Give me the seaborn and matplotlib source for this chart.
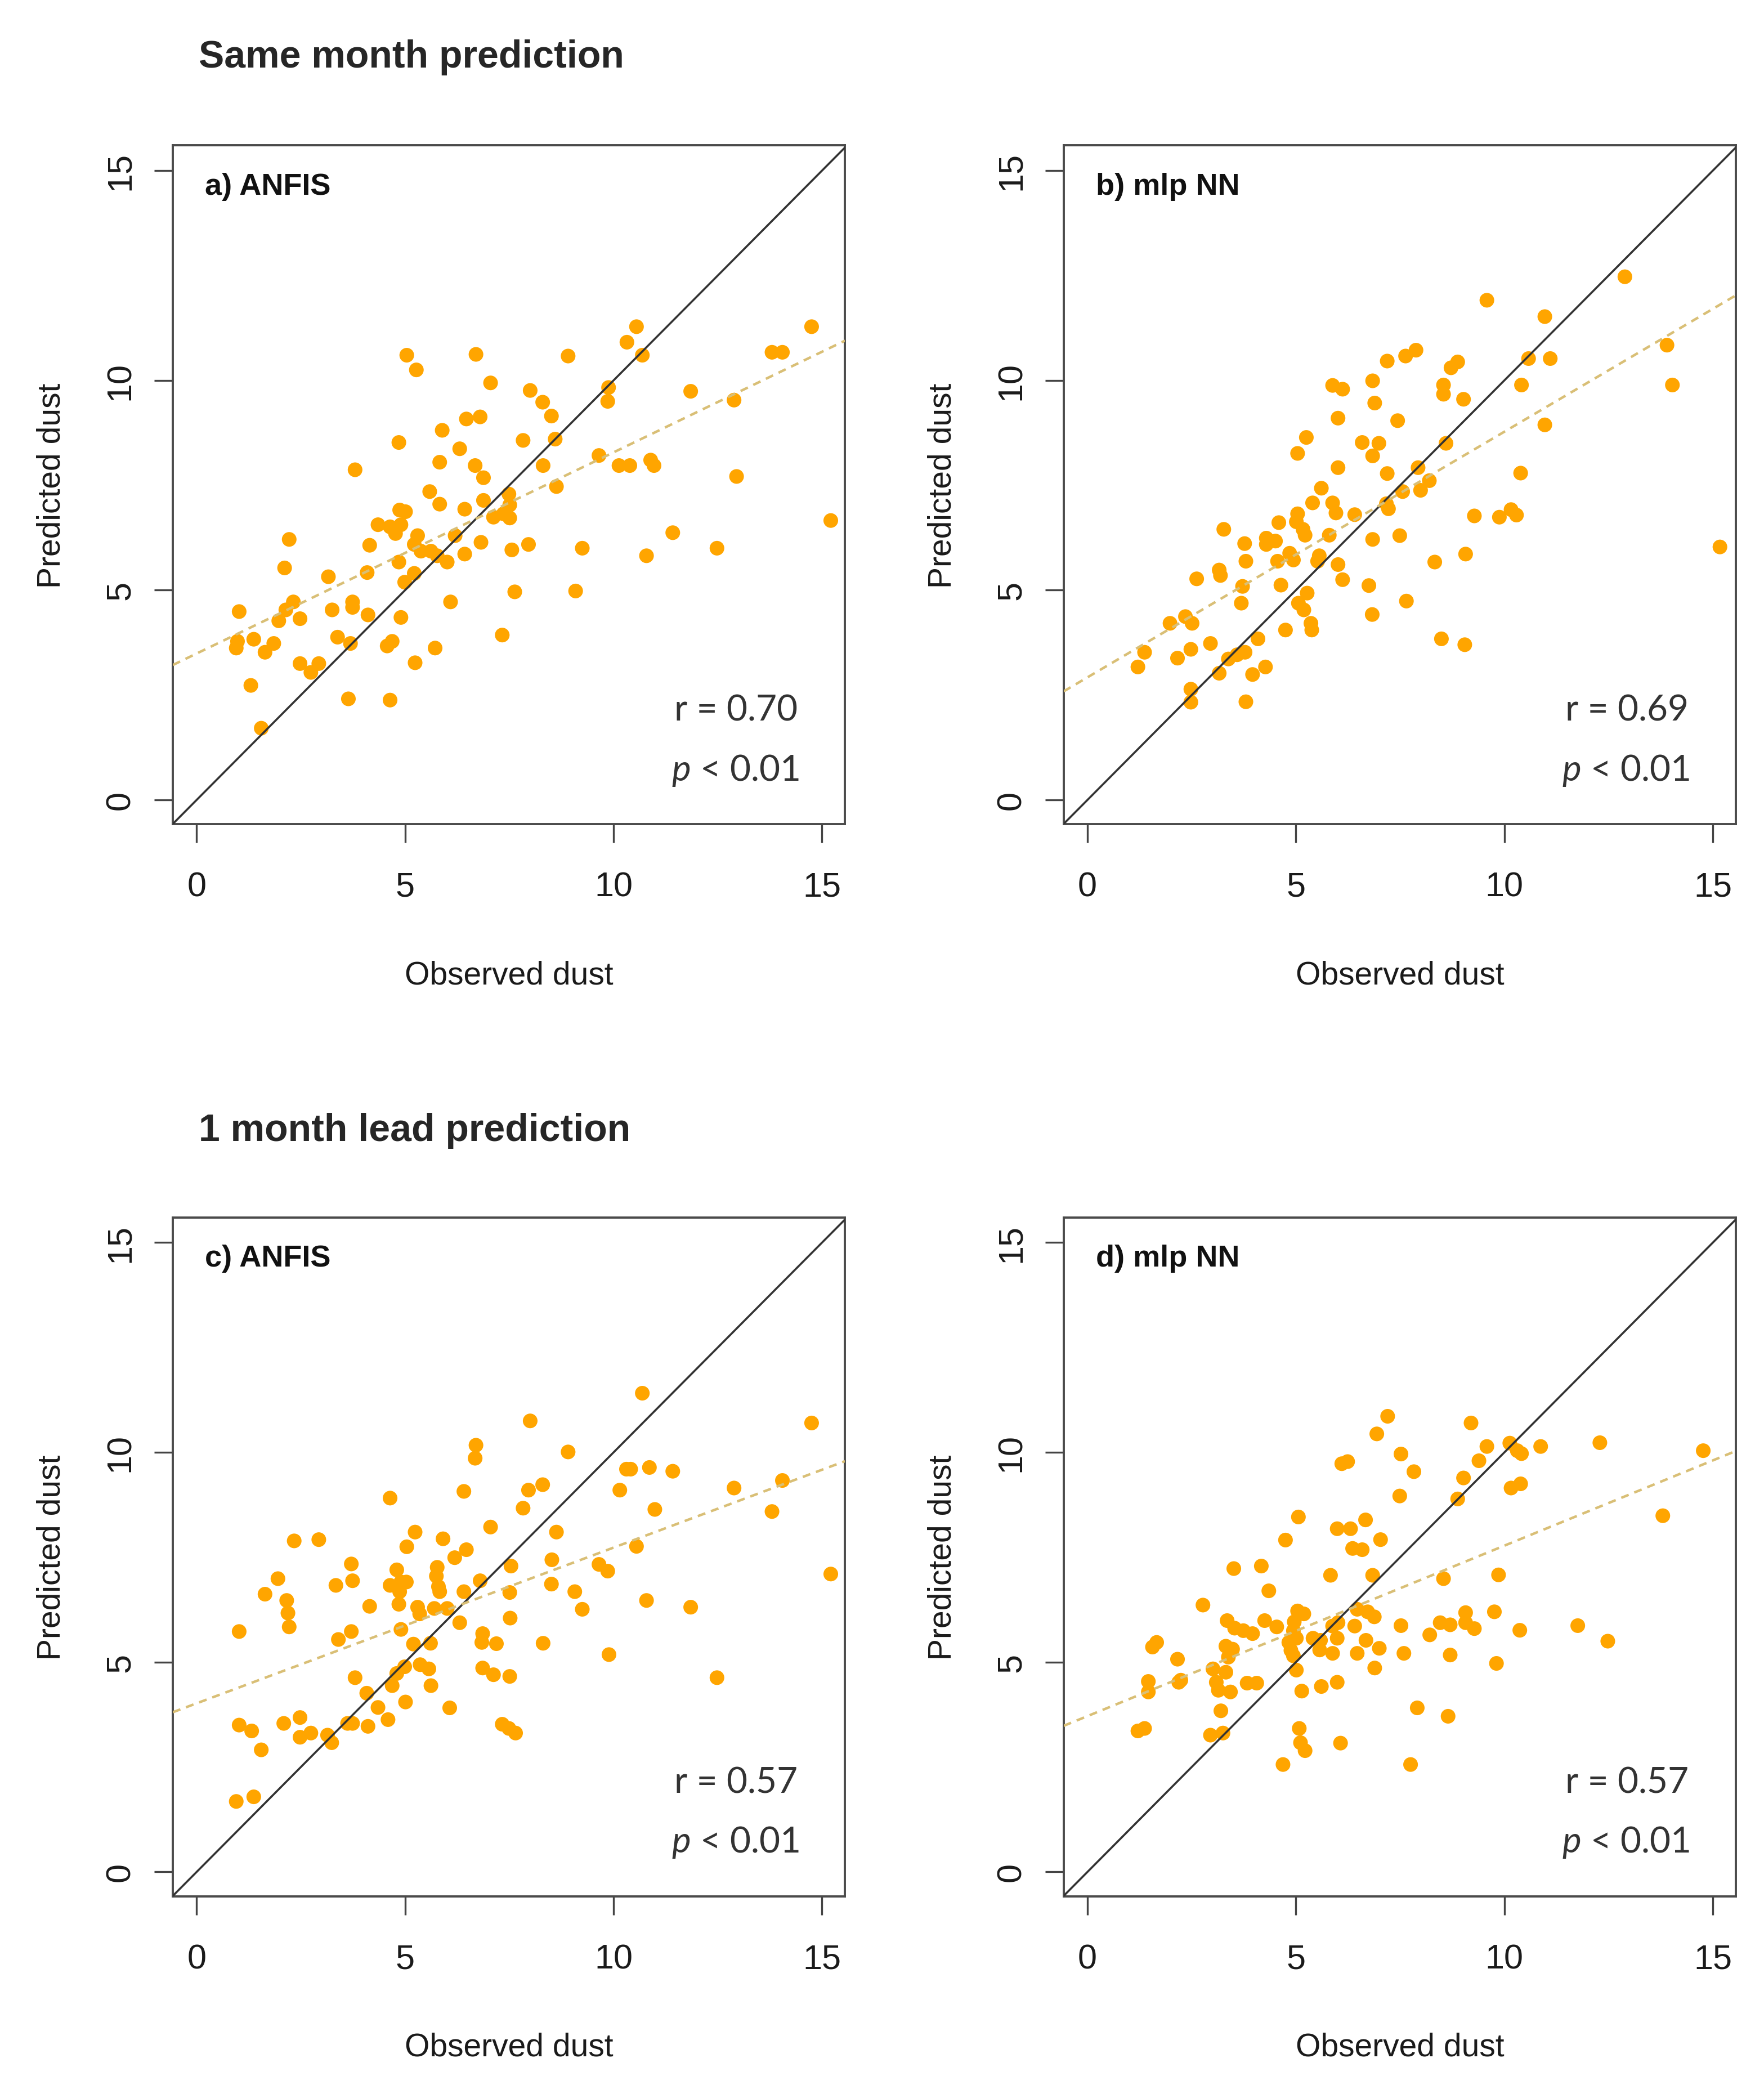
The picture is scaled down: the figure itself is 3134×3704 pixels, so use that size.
import numpy as np
import pandas as pd
import seaborn as sns
import matplotlib.pyplot as plt

# observed vs predicted dust

obs_a = [10.55, 10.32, 10.69, 5.04, 5.27, 6.70, 8.91, 14.75, 13.80, 14.05, 7.05, 8.00, 9.88, 9.86, 11.85,
         12.89, 8.30, 8.51, 6.47, 6.80, 5.89, 4.85, 7.83, 8.60, 6.31, 5.83, 6.68, 6.88, 8.31, 9.65,
         10.13, 10.39, 10.89, 10.97, 12.95, 3.80, 8.63, 5.59, 5.83, 6.43, 6.88, 7.49, 7.51, 7.12, 7.36,
         7.51, 4.87, 5.01, 4.35, 4.64, 4.90, 4.77, 15.21, 2.22, 4.15, 5.30, 5.22, 5.38, 5.62, 5.77,
         6.20, 6.82, 6.43, 6.01, 7.56, 7.96, 9.25, 11.42, 12.48, 10.79, 4.85, 2.11, 4.09, 3.16, 5.22,
         4.99, 7.63, 9.09, 1.02, 2.32, 2.14, 1.97, 2.48, 3.25, 3.74, 3.74, 4.11, 4.90, 6.09, 0.98,
         0.95, 1.37, 1.85, 1.64, 3.38, 3.69, 4.57, 4.69, 5.72, 7.33, 2.48, 2.74, 2.93, 5.24, 1.30,
         3.64, 4.64, 1.55]
pred_a = [11.28, 10.91, 10.60, 10.60, 10.25, 10.62, 10.58, 11.28, 10.67, 10.67, 9.94, 9.76, 9.83, 9.50, 9.74,
          9.53, 9.48, 9.15, 9.08, 9.13, 8.81, 8.52, 8.57, 8.60, 8.37, 8.05, 7.97, 7.68, 7.97, 8.21,
          7.97, 7.97, 8.10, 7.97, 7.71, 7.87, 7.47, 7.35, 7.05, 6.93, 7.14, 7.29, 7.03, 6.74, 6.82,
          6.72, 6.91, 6.87, 6.56, 6.51, 6.56, 6.35, 6.66, 6.21, 6.07, 6.30, 6.09, 5.93, 5.93, 5.82,
          6.30, 6.14, 5.86, 5.67, 5.96, 6.09, 6.00, 6.37, 6.00, 5.82, 5.67, 5.53, 5.42, 5.32, 5.40,
          5.19, 4.96, 4.98, 4.49, 4.72, 4.53, 4.27, 4.32, 4.53, 4.72, 4.59, 4.41, 4.35, 4.72, 3.78,
          3.62, 3.83, 3.73, 3.52, 3.88, 3.73, 3.67, 3.78, 3.62, 3.93, 3.25, 3.04, 3.25, 3.27, 2.73,
          2.41, 2.38, 1.71]

obs_b = [12.89, 9.58, 10.97, 13.90, 14.03, 10.58, 11.10, 10.41, 10.97, 15.17, 7.88, 7.63, 7.19, 8.72, 8.88,
         8.54, 8.54, 9.02, 5.88, 6.12, 6.84, 6.89, 6.01, 7.44, 5.25, 5.04, 6.59, 6.99, 6.84, 8.60,
         6.01, 7.19, 7.93, 8.20, 7.99, 7.56, 10.39, 5.61, 5.40, 5.88, 5.96, 6.41, 7.17, 7.22, 5.04,
         5.01, 4.59, 5.17, 5.22, 3.27, 4.29, 4.51, 4.29, 3.77, 5.80, 6.84, 7.49, 9.28, 9.88, 10.16,
         10.29, 4.85, 4.94, 4.56, 3.80, 5.56, 5.52, 6.01, 6.12, 9.07, 8.33, 2.62, 3.16, 3.19, 3.72,
         4.64, 5.27, 6.75, 3.69, 5.06, 5.19, 7.65, 6.83, 1.98, 2.35, 2.51, 5.36, 5.38, 4.75, 8.49,
         9.05, 4.09, 2.95, 1.37, 2.48, 2.16, 1.21, 3.38, 3.59, 3.78, 3.16, 3.96, 4.27, 2.48, 2.48,
         3.80]
pred_b = [12.47, 11.91, 11.52, 10.84, 9.89, 10.52, 10.52, 9.89, 8.94, 6.03, 10.72, 10.58, 10.46, 10.30, 10.44,
          9.89, 9.67, 9.55, 9.88, 9.79, 9.99, 9.46, 9.10, 9.04, 8.64, 8.26, 8.52, 8.50, 8.20, 8.50,
          7.92, 7.78, 7.92, 7.61, 7.38, 7.35, 7.79, 7.43, 7.08, 7.08, 6.84, 6.80, 7.06, 6.94, 6.82,
          6.63, 6.61, 6.45, 6.31, 6.45, 6.24, 6.17, 6.09, 6.11, 6.31, 6.21, 6.30, 6.77, 6.74, 6.92,
          6.79, 5.88, 5.72, 5.69, 5.69, 5.82, 5.69, 5.61, 5.25, 5.86, 5.67, 5.27, 5.48, 5.35, 5.09,
          5.12, 4.93, 5.11, 4.69, 4.69, 4.53, 4.74, 4.42, 4.21, 4.37, 4.21, 4.21, 4.05, 4.05, 3.84,
          3.70, 3.84, 3.73, 3.52, 3.59, 3.38, 3.17, 3.36, 3.46, 3.52, 3.02, 2.99, 3.17, 2.64, 2.33,
          2.34]

obs_c = [10.69, 8.00, 14.75, 6.70, 6.68, 8.91, 10.31, 10.41, 10.86, 11.42, 14.05, 12.89, 13.80, 10.15, 10.99,
         7.96, 8.30, 6.41, 4.64, 7.83, 7.05, 8.63, 10.55, 5.24, 5.04, 5.91, 6.47, 6.19, 2.34, 2.93,
         3.71, 3.74, 3.34, 1.95, 1.64, 2.16, 2.19, 2.22, 1.02, 4.80, 4.90, 5.03, 4.64, 4.87, 4.85,
         5.77, 5.75, 5.80, 5.83, 6.80, 7.54, 6.41, 7.51, 8.52, 8.51, 9.07, 9.65, 9.86, 10.79, 11.85,
         15.21, 4.15, 5.30, 5.35, 5.70, 6.01, 6.31, 7.52, 9.25, 4.90, 3.40, 3.71, 5.20, 5.61, 6.86,
         6.84, 7.19, 8.31, 9.89, 5.36, 5.57, 4.99, 4.80, 6.86, 7.12, 7.51, 12.48, 3.80, 4.69, 5.62,
         4.08, 5.01, 4.35, 6.07, 4.59, 4.11, 3.74, 3.62, 1.02, 1.32, 1.55, 2.09, 2.48, 2.48, 2.74,
         3.14, 3.24, 7.33, 7.49, 7.65, 0.95, 1.37]
pred_c = [11.41, 10.75, 10.70, 10.17, 9.86, 10.01, 9.60, 9.60, 9.64, 9.55, 9.33, 9.15, 8.59, 9.10, 8.64,
          9.10, 9.23, 9.07, 8.91, 8.67, 8.22, 8.10, 7.76, 8.10, 7.75, 7.94, 7.68, 7.49, 7.89, 7.92,
          7.34, 6.94, 6.83, 6.99, 6.62, 6.47, 6.17, 5.84, 5.73, 7.20, 6.91, 6.91, 6.83, 6.68, 6.38,
          7.26, 7.05, 6.80, 6.68, 6.94, 7.29, 6.68, 6.66, 7.44, 6.86, 6.68, 7.33, 7.17, 6.47, 6.31,
          7.10, 6.33, 6.31, 6.15, 6.28, 6.28, 5.94, 6.05, 6.26, 5.78, 5.54, 5.73, 5.43, 5.45, 5.68,
          5.47, 5.44, 5.45, 5.18, 4.94, 4.84, 4.89, 4.73, 4.86, 4.70, 4.66, 4.63, 4.63, 4.44, 4.44,
          4.26, 4.05, 3.92, 3.91, 3.63, 3.47, 3.54, 3.54, 3.50, 3.36, 2.91, 3.54, 3.68, 3.21, 3.31,
          3.26, 3.08, 3.52, 3.42, 3.31, 1.68, 1.79]

obs_d = [7.20, 6.94, 9.20, 9.58, 10.13, 10.31, 10.41, 10.87, 12.29, 14.77, 9.39, 9.02, 10.16, 10.39, 8.88,
         13.80, 7.52, 7.83, 7.49, 6.10, 6.24, 5.06, 5.99, 6.31, 6.67, 6.36, 6.59, 7.03, 4.75, 3.51,
         4.17, 4.35, 5.83, 6.84, 8.54, 9.86, 2.77, 3.35, 3.53, 3.74, 3.96, 4.25, 4.54, 5.04, 5.19,
         4.96, 4.94, 5.01, 4.83, 4.88, 4.94, 5.41, 5.59, 5.88, 6.01, 5.99, 5.57, 5.88, 6.41, 6.47,
         6.72, 6.88, 6.68, 7.00, 6.47, 6.89, 7.52, 7.59, 8.21, 8.46, 8.70, 8.70, 9.07, 9.07, 9.28,
         9.76, 10.37, 9.81, 11.76, 12.48, 1.56, 1.66, 2.16, 3.32, 3.48, 3.38, 3.01, 3.32, 1.46, 1.46,
         2.19, 2.24, 3.09, 3.14, 3.43, 3.83, 4.06, 5.01, 5.14, 5.61, 5.99, 3.20, 7.91, 8.65, 1.21,
         1.37, 2.95, 3.25, 5.08, 5.11, 5.22, 6.07, 4.69, 7.75]
pred_d = [10.86, 10.44, 10.70, 10.14, 10.22, 10.04, 9.97, 10.14, 10.23, 10.04, 9.80, 9.39, 9.15, 9.25, 8.89,
          8.49, 9.96, 9.54, 8.96, 9.73, 9.78, 8.46, 8.18, 8.18, 8.39, 7.71, 7.68, 7.92, 7.91, 7.23,
          7.29, 6.70, 7.07, 7.07, 6.99, 7.08, 6.36, 5.99, 5.81, 5.75, 5.68, 5.99, 5.84, 6.22, 6.15,
          5.96, 5.75, 5.57, 5.47, 5.28, 5.15, 5.57, 5.52, 5.86, 5.94, 5.57, 5.29, 5.21, 5.86, 6.26,
          6.20, 6.08, 5.52, 5.33, 5.21, 4.86, 5.87, 5.21, 5.65, 5.94, 5.89, 5.17, 6.18, 5.94, 5.80,
          6.20, 5.76, 4.97, 5.87, 5.50, 5.36, 5.47, 5.07, 5.38, 5.31, 5.12, 4.84, 4.76, 4.54, 4.29,
          4.52, 4.57, 4.52, 4.33, 4.29, 4.50, 4.50, 4.81, 4.31, 4.42, 4.52, 3.84, 3.91, 3.71, 3.36,
          3.42, 3.26, 3.31, 3.42, 3.08, 2.89, 3.07, 2.56, 2.56]

panel_labels = ["a) ANFIS", "b) mlp NN", "c) ANFIS", "d) mlp NN"]
r_values = ["0.70", "0.69", "0.57", "0.57"]
row_titles = ["Same month prediction", "1 month lead prediction"]

observed = [obs_a, obs_b, obs_c, obs_d]
predicted = [pred_a, pred_b, pred_c, pred_d]

sns.set_theme(style="white")
plt.rcParams['font.family'] = ['Liberation Sans', 'DejaVu Sans']
plt.rcParams['mathtext.fontset'] = 'custom'
plt.rcParams['mathtext.it'] = 'Lato:italic'
plt.rcParams['mathtext.rm'] = 'Lato'

fig = plt.figure(figsize=(15.67, 18.525), dpi=200)

lefts = [0.098, 0.603, 0.098, 0.603]
bottoms = [0.6045, 0.6045, 0.0905, 0.0905]
w, h = 0.381, 0.3255

for i in range(4):
    ax = fig.add_axes([lefts[i], bottoms[i], w, h])
    ax.set_xlim(-0.57, 15.55)
    ax.set_ylim(-0.58, 15.6)
    df = pd.DataFrame({"obs": observed[i], "pred": predicted[i]})

    sns.scatterplot(data=df, x="obs", y="pred", ax=ax, color="#FFA500",
                    s=88, linewidth=0, edgecolor="none", zorder=2)
    ax.axline((0, 0), slope=1, color="#333333", lw=1.3, zorder=3)
    sns.regplot(data=df, x="obs", y="pred", ax=ax, scatter=False, ci=None,
                truncate=False,
                line_kws=dict(color="#D9BF76", lw=1.6, ls=(0, (3.2, 2.4)), zorder=3))
    ax.set_xlim(-0.57, 15.55)
    ax.set_ylim(-0.58, 15.6)

    ax.set_xticks([0, 5, 10, 15])
    ax.set_yticks([0, 5, 10, 15])
    ax.tick_params(direction="out", length=12, width=1.2, color="#444444",
                   labelsize=22, labelcolor="#1a1a1a", bottom=True, left=True)
    ax.tick_params(axis="x", pad=18)
    ax.tick_params(axis="y", pad=11, labelrotation=90)
    for lbl in ax.get_yticklabels():
        lbl.set_va("center")
    for sp in ax.spines.values():
        sp.set_color("#4a4a4a")
        sp.set_linewidth(1.4)

    ax.set_xlabel("Observed dust", fontsize=20.5, color="#1a1a1a", va="center")
    ax.set_ylabel("Predicted dust", fontsize=20.5, color="#1a1a1a")
    ax.xaxis.set_label_coords(0.5, -0.222)
    ax.yaxis.set_label_coords(-0.158, 0.5)

    ax.text(0.048, 0.94, panel_labels[i], transform=ax.transAxes, fontsize=19.5,
            fontweight="bold", va="center", ha="left", color="#111111")
    ax.text(0.93, 0.168, "r = " + r_values[i], transform=ax.transAxes, fontsize=23,
            family="Lato", color="#333333", ha="right", va="center")
    ax.text(0.932, 0.08, "$p$ < 0.01", transform=ax.transAxes, fontsize=23,
            family="Lato", color="#333333", ha="right", va="center")

fig.text(0.1126, 0.9725, row_titles[0], fontsize=24.5, fontweight="bold", va="center", ha="left")
fig.text(0.1126, 0.4578, row_titles[1], fontsize=24.5, fontweight="bold", va="center", ha="left")

fig.savefig("out.png", dpi=200, facecolor="white")
